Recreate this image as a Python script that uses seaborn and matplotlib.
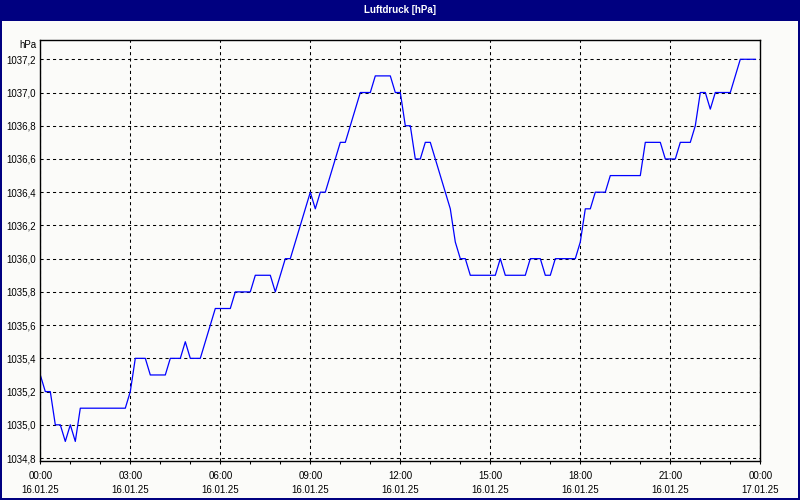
import matplotlib
matplotlib.use("Agg")
import matplotlib.pyplot as plt
import matplotlib.dates as mdates
from matplotlib.patches import Rectangle
from matplotlib.ticker import FuncFormatter, MultipleLocator
import seaborn as sns
import pandas as pd
import numpy as np

title = "Luftdruck [hPa]"
unit = "hPa"
start = "2025-01-16 00:00"
step_minutes = 10
pressure = [
    1035.3, 1035.2, 1035.2, 1035.0, 1035.0, 1034.9, 1035.0, 1034.9, 1035.1, 1035.1,
    1035.1, 1035.1, 1035.1, 1035.1, 1035.1, 1035.1, 1035.1, 1035.1, 1035.2, 1035.4,
    1035.4, 1035.4, 1035.3, 1035.3, 1035.3, 1035.3, 1035.4, 1035.4, 1035.4, 1035.5,
    1035.4, 1035.4, 1035.4, 1035.5, 1035.6, 1035.7, 1035.7, 1035.7, 1035.7, 1035.8,
    1035.8, 1035.8, 1035.8, 1035.9, 1035.9, 1035.9, 1035.9, 1035.8, 1035.9, 1036.0,
    1036.0, 1036.1, 1036.2, 1036.3, 1036.4, 1036.3, 1036.4, 1036.4, 1036.5, 1036.6,
    1036.7, 1036.7, 1036.8, 1036.9, 1037.0, 1037.0, 1037.0, 1037.1, 1037.1, 1037.1,
    1037.1, 1037.0, 1037.0, 1036.8, 1036.8, 1036.6, 1036.6, 1036.7, 1036.7, 1036.6,
    1036.5, 1036.4, 1036.3, 1036.1, 1036.0, 1036.0, 1035.9, 1035.9, 1035.9, 1035.9,
    1035.9, 1035.9, 1036.0, 1035.9, 1035.9, 1035.9, 1035.9, 1035.9, 1036.0, 1036.0,
    1036.0, 1035.9, 1035.9, 1036.0, 1036.0, 1036.0, 1036.0, 1036.0, 1036.1, 1036.3,
    1036.3, 1036.4, 1036.4, 1036.4, 1036.5, 1036.5, 1036.5, 1036.5, 1036.5, 1036.5,
    1036.5, 1036.7, 1036.7, 1036.7, 1036.7, 1036.6, 1036.6, 1036.6, 1036.7, 1036.7,
    1036.7, 1036.8, 1037.0, 1037.0, 1036.9, 1037.0, 1037.0, 1037.0, 1037.0, 1037.1,
    1037.2, 1037.2, 1037.2, 1037.2,
]
times = pd.date_range(start, periods=len(pressure), freq=f"{step_minutes}min")
df = pd.DataFrame({"time": times, "pressure": pressure})

plt.rcParams["font.family"] = ["Liberation Sans", "DejaVu Sans"]
bg = "#FBFBF9"
navy = "#000080"

fig = plt.figure(figsize=(8, 5), dpi=100, facecolor=bg)
W, H = 800.0, 500.0
ax = fig.add_axes([40.3 / W, 1 - 460.7 / H, (760.3 - 40.3) / W, (460.7 - 40.0) / H])
ax.set_facecolor(bg)

sns.lineplot(data=df, x="time", y="pressure", ax=ax, color="#0000FF", linewidth=0.9)

x0 = pd.Timestamp("2025-01-16 00:00")
x1 = pd.Timestamp("2025-01-17 00:00")
ax.set_xlim(x0, x1)
ax.set_ylim(1034.784, 1037.316)

ax.xaxis.set_major_locator(mdates.HourLocator(byhour=range(0, 24, 3)))
ax.xaxis.set_minor_locator(mdates.HourLocator())
ax.xaxis.set_major_formatter(mdates.DateFormatter("%H:%M\n%d.%m.%y"))
ax.yaxis.set_major_locator(MultipleLocator(0.2))
ax.yaxis.set_major_formatter(FuncFormatter(lambda v, p: f"{v:.1f}".replace(".", ",")))

ax.grid(True, which="major", color="black", linestyle=(0, (3, 3)), linewidth=0.75)
ax.set_axisbelow(True)
for s in ax.spines.values():
    s.set_color("black")
    s.set_linewidth(1.0)

ax.tick_params(axis="x", which="both", direction="out", length=2.5, width=0.75,
               colors="black", labelsize=7, pad=5)
ax.tick_params(axis="y", which="both", length=0, labelsize=7, pad=3, colors="black")
for lab in ax.get_xticklabels():
    lab.set_linespacing(1.45)
ax.set_xlabel("")
ax.set_ylabel("")

# unit label
fig.text(37 / W, 1 - 45 / H, unit, ha="right", va="center", fontsize=7, color="black")

# window frame: title bar and borders
fig.patches.append(Rectangle((0, 1 - 21 / H), 1, 21 / H, transform=fig.transFigure,
                             facecolor=navy, edgecolor="none", zorder=0))
fig.patches.append(Rectangle((0, 0), 2 / W, 1, transform=fig.transFigure,
                             facecolor=navy, edgecolor="none", zorder=0))
fig.patches.append(Rectangle((1 - 2 / W, 0), 2 / W, 1, transform=fig.transFigure,
                             facecolor=navy, edgecolor="none", zorder=0))
fig.patches.append(Rectangle((0, 0), 1, 2 / H, transform=fig.transFigure,
                             facecolor=navy, edgecolor="none", zorder=0))
fig.text(0.5, 1 - 10 / H, title, ha="center", va="center", fontsize=7,
         fontweight="bold", color="white")

fig.savefig("out.png", dpi=100, facecolor=bg)
